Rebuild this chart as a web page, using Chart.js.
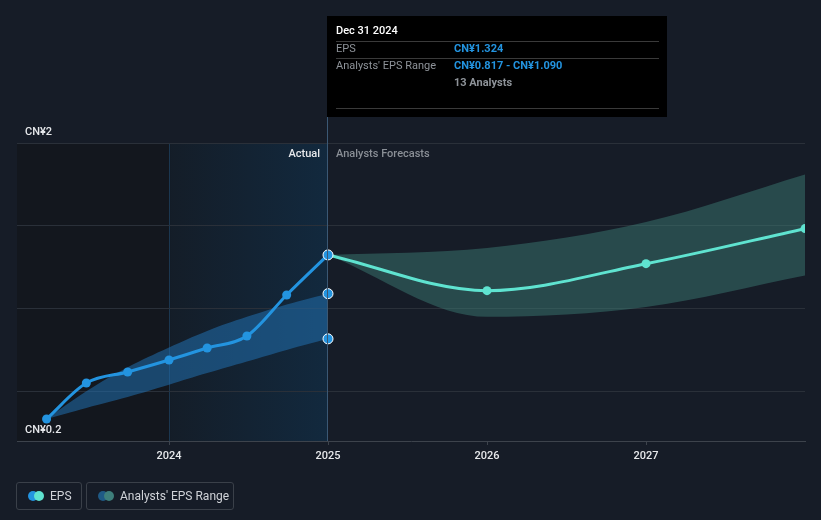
<!DOCTYPE html>
<html lang="en">
  <head>
    <meta charset="UTF-8" />
    <script src="https://cdn.jsdelivr.net/npm/chart.js@4.4.1/dist/chart.umd.min.js"></script>
    <title>EPS chart</title>
    <style>
      body { margin: 0; background: #161c27; font-family: Roboto, sans-serif; }
      #wrap { position: relative; width: 821px; height: 520px; }
      .leg { position: absolute; top: 482px; border: 1px solid #3a4049; border-radius: 3px;
             color: #d0d3d8; font-size: 12px; line-height: 26px; box-sizing: border-box; height: 28px; }
      .dot { position: absolute; top: 8px; width: 10px; height: 10px; border-radius: 50%; }
    </style>
  </head>
  <body>
    <div id="wrap">
      <canvas id="myChart" width="821" height="520"></canvas>
      <div class="leg" style="left:16px;width:66px;">
        <span class="dot" style="left:11px;background:#2394e0"></span>
        <span class="dot" style="left:17px;background:#5fe3d0"></span>
        <span style="position:absolute;left:33px;">EPS</span>
      </div>
      <div class="leg" style="left:86px;width:148px;">
        <span class="dot" style="left:11px;background:#1f5a85"></span>
        <span class="dot" style="left:17px;background:#3e7f7b"></span>
        <span style="position:absolute;left:33px;">Analysts' EPS Range</span>
      </div>
    </div>
    <script>
      // actual EPS (trailing), quarter ends
      const histX = [2023.23, 2023.48, 2023.74, 2024.0, 2024.24, 2024.49, 2024.74, 2025.0];
      const histEps = [0.333, 0.55, 0.617, 0.689, 0.762, 0.834, 1.082, 1.324];
      const histLow = [0.333, 0.40, 0.466, 0.54, 0.61, 0.68, 0.75, 0.817];
      const histHigh = [0.333, 0.50, 0.645, 0.765, 0.865, 0.95, 1.025, 1.09];

      // analyst forecasts
      const fcX = [2025.0, 2026.0, 2027.0, 2028.0];
      const fcEps = [1.324, 1.108, 1.271, 1.483];
      const fcLow = [1.324, 0.95, 1.01, 1.20];
      const fcHigh = [1.324, 1.366, 1.523, 1.81];

      const yearTicks = [2024, 2025, 2026, 2027];
      const gridVals = [0.5, 1, 1.5, 2];
      const yLabels = [[2, "CN¥2"], [0.2, "CN¥0.2"]];

      const pts = (xs, ys) => xs.map((x, i) => ({ x: x, y: ys[i] }));
      const last = histX.length - 1;

      const bgPlugin = {
        id: "bg",
        beforeDraw(chart) {
          const c = chart.ctx, a = chart.chartArea, xs = chart.scales.x;
          const x24 = xs.getPixelForValue(2024), x25 = xs.getPixelForValue(2025);
          c.save();
          c.fillStyle = "#161c27";
          c.fillRect(0, 0, chart.width, chart.height);
          c.fillStyle = "#13171e";
          c.fillRect(a.left, a.top, x24 - a.left, a.bottom - a.top);
          const g = c.createLinearGradient(x24, 0, x25, 0);
          g.addColorStop(0, "#141d28");
          g.addColorStop(1, "#12293e");
          c.fillStyle = g;
          c.fillRect(x24, a.top, x25 - x24, a.bottom - a.top);
          c.fillStyle = "#1b3750";
          c.fillRect(x24, a.top, 1, a.bottom - a.top);
          c.restore();
        },
        afterDraw(chart) {
          const c = chart.ctx, a = chart.chartArea, xs = chart.scales.x, ys = chart.scales.y;
          const x25 = Math.round(xs.getPixelForValue(2025));
          c.save();
          // y labels
          c.font = "500 11px Roboto";
          c.fillStyle = "#e6e8eb";
          c.textBaseline = "middle";
          yLabels.forEach(([v, t]) => c.fillText(t, 25, ys.getPixelForValue(v) - 11));
          // vertical marker
          c.fillStyle = "#3b5874";
          c.fillRect(x25 - 1, 117, 1, a.bottom - 117);
          // region labels
          c.textAlign = "right";
          c.fillStyle = "#e6e8eb";
          c.fillText("Actual", x25 - 8, 154);
          c.textAlign = "left";
          c.fillStyle = "#8a8f96";
          c.fillText("Analysts Forecasts", x25 + 8, 154);
          // tooltip box
          const bx = x25 - 1;
          c.fillStyle = "#000";
          c.fillRect(bx, 16, 340, 101);
          c.fillStyle = "#3a3a3a";
          [41, 58, 108].forEach(y => c.fillRect(bx + 9, y, 323, 1));
          c.font = "500 11px Roboto";
          c.fillStyle = "#ffffff";
          c.fillText("Dec 31 2024", bx + 9, 31);
          c.font = "11px Roboto";
          c.fillStyle = "#8e9399";
          c.fillText("EPS", bx + 9, 49);
          c.fillText("Analysts' EPS Range", bx + 9, 66);
          c.font = "bold 11px Roboto";
          c.fillStyle = "#2394e0";
          c.fillText("CN¥" + histEps[last].toFixed(3), bx + 127, 49);
          c.fillText("CN¥" + histLow[last].toFixed(3) + " - CN¥" + histHigh[last].toFixed(3), bx + 127, 66);
          c.fillStyle = "#8e9399";
          c.fillText("13 Analysts", bx + 127, 83);
          c.restore();
        }
      };

      const ctx = document.getElementById("myChart").getContext("2d");
      const myChart = new Chart(ctx, {
        type: "line",
        data: {
          datasets: [
            {
              label: "EPS",
              data: pts(histX, histEps),
              borderColor: "#2394e0",
              borderWidth: 3,
              backgroundColor: "#2394e0",
              pointBackgroundColor: "#2394e0",
              pointBorderColor: histX.map((_, i) => (i === last ? "#ffffff" : "#2394e0")),
              pointBorderWidth: histX.map((_, i) => (i === last ? 1 : 0)),
              pointRadius: histX.map((_, i) => (i === last ? 5 : 4.5)),
              cubicInterpolationMode: "monotone",
              fill: false,
              order: 1
            },
            {
              label: "range low",
              data: pts(histX, histLow),
              borderWidth: 0,
              pointRadius: histX.map((_, i) => (i === last ? 5 : 0)),
              pointBackgroundColor: "#2394e0",
              pointBorderColor: "#ffffff",
              pointBorderWidth: 1,
              tension: 0.4,
              fill: false,
              order: 2
            },
            {
              label: "range high",
              data: pts(histX, histHigh),
              borderWidth: 0,
              pointRadius: histX.map((_, i) => (i === last ? 5 : 0)),
              pointBackgroundColor: "#2394e0",
              pointBorderColor: "#ffffff",
              pointBorderWidth: 1,
              backgroundColor: "rgba(33, 112, 175, 0.55)",
              tension: 0.4,
              fill: "-1",
              order: 2
            },
            {
              label: "Forecast",
              data: pts(fcX, fcEps),
              borderColor: "#5fe3d0",
              borderWidth: 3,
              pointBackgroundColor: "#5fe3d0",
              pointBorderWidth: 0,
              pointRadius: fcX.map((_, i) => (i === 0 ? 0 : 4.5)),
              cubicInterpolationMode: "monotone",
              fill: false,
              order: 1
            },
            {
              label: "fc low",
              data: pts(fcX, fcLow),
              borderWidth: 0,
              pointRadius: 0,
              cubicInterpolationMode: "monotone",
              fill: false,
              order: 3
            },
            {
              label: "fc high",
              data: pts(fcX, fcHigh),
              borderWidth: 0,
              pointRadius: 0,
              backgroundColor: "rgba(62, 130, 122, 0.45)",
              cubicInterpolationMode: "monotone",
              fill: "-1",
              order: 3
            }
          ]
        },
        options: {
          responsive: false,
          devicePixelRatio: 1,
          animation: false,
          layout: { padding: { left: 17, right: 16, top: 143, bottom: 0 } },
          plugins: { legend: { display: false }, tooltip: { enabled: false } },
          scales: {
            x: {
              type: "linear",
              min: 2023.044,
              max: 2028.0,
              afterBuildTicks: (s) => { s.ticks = yearTicks.map(v => ({ value: v })); },
              afterFit: (s) => { s.height = 79; },
              ticks: {
                color: "#e6e8eb",
                font: { family: "Roboto", size: 11, weight: "500" },
                padding: 5,
                callback: (v) => String(v)
              },
              grid: { drawOnChartArea: false, drawTicks: true, tickLength: 4, color: "#3d434c" },
              border: { color: "#3d434c" }
            },
            y: {
              min: 0.2,
              max: 2,
              afterBuildTicks: (s) => { s.ticks = gridVals.map(v => ({ value: v })); },
              afterFit: (s) => { s.width = 0; },
              ticks: { display: false },
              grid: { color: "#2a3039", drawTicks: false },
              border: { display: false }
            }
          }
        },
        plugins: [bgPlugin]
      });
    </script>
  </body>
</html>
